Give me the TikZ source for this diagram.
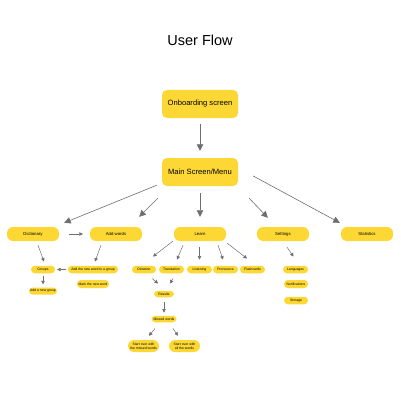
\documentclass[tikz,border=0pt]{standalone}
\usepackage{fontspec}
\setmainfont{Liberation Sans}
\usetikzlibrary{calc,arrows.meta}
\definecolor{boxy}{RGB}{253,216,53}
\definecolor{arrg}{RGB}{110,110,110}
\tikzset{
  bigbox/.style={fill=boxy,rounded corners=5pt,minimum width=76pt,minimum height=28pt,inner sep=0pt,font=\fontsize{7.6}{9}\selectfont},
  midbox/.style={fill=boxy,rounded corners=6pt,minimum width=52pt,minimum height=14pt,inner sep=0pt,font=\fontsize{4.3}{5}\selectfont},
  smallbox/.style={fill=boxy,rounded corners=3.7pt,minimum height=7.5pt,inner sep=0pt,font=\fontsize{3.4}{4}\selectfont},
  twobox/.style={fill=boxy,rounded corners=6pt,minimum width=31pt,minimum height=12pt,inner sep=0pt,align=center,font=\fontsize{3.4}{4.3}\selectfont},
  bigarr/.style={draw=arrg,line width=0.8pt,-{Triangle[length=6.5pt,width=6.5pt]}},
  smallarr/.style={draw=arrg,line width=0.5pt,-{Triangle[length=3.5pt,width=3.5pt]}},
}
\begin{document}
\begin{tikzpicture}[x=1pt,y=-1pt]
\useasboundingbox (0,0) rectangle (400,409);
\node[font=\fontsize{14.5}{16}\selectfont] (title) at (200,40) {User Flow};
\node[bigbox] (onboard) at (200,104) {Onboarding screen};
\node[bigbox] (main) at (200,172) {Main Screen/Menu};

\node[midbox] (dict) at (33,234) {Dictionary};
\node[midbox] (addwords) at (116,234) {Add words};
\node[midbox] (learn) at (200,234) {Learn};
\node[midbox] (settings) at (283,234) {Settings};
\node[midbox] (stats) at (367,234) {Statistics};

\node[smallbox,minimum width=24pt] (groups) at (43,269.5) {Groups};
\node[smallbox,minimum width=50pt] (addnew) at (93,269.5) {Add the new word to a group};
\node[smallbox,minimum width=32pt,minimum height=8pt] (mark) at (93,284) {Mark the new word};
\node[smallbox,minimum width=28pt,minimum height=7pt] (addgroup) at (43,291) {Add a new group};

\node[smallbox,minimum width=24pt] (dictation) at (144,269.5) {Dictation};
\node[smallbox,minimum width=25pt] (translation) at (171.5,269.5) {Translation};
\node[smallbox,minimum width=25pt] (listening) at (199.5,269.5) {Listening};
\node[smallbox,minimum width=25pt] (pronounce) at (225.5,269.5) {Pronounce};
\node[smallbox,minimum width=25pt] (flash) at (252.5,269.5) {Flashcards};

\node[smallbox,minimum width=20pt,minimum height=6.5pt] (results) at (164,294) {Results};
\node[smallbox,minimum width=25pt,minimum height=6.5pt] (missed) at (164,319) {Missed words};
\node[twobox] (startmissed) at (143.5,346) {Start over with\\the missed words};
\node[twobox] (startall) at (184.5,346) {Start over with\\all the words};

\node[smallbox,minimum width=25pt] (languages) at (295.5,269.5) {Languages};
\node[smallbox,minimum width=24pt,minimum height=8pt] (notif) at (296,284) {Notifications};
\node[smallbox,minimum width=24pt] (storage) at (296,300.5) {Storage};

% top arrows
\draw[bigarr] ($(onboard.south)+(0,6)$) -- ($(main.north)+(0,-7)$);
\draw[bigarr,line width=0.6pt] ($(main.south west)+(-5,-1)$) -- ($(dict.north east)+(5,-4)$);
\draw[bigarr,line width=0.6pt] ($(main.south west)+(-4,12)$) -- ($(addwords.north east)+(-3,-10)$);
\draw[bigarr,line width=0.6pt] ($(main.south)+(0,7)$) -- ($(learn.north)+(0,-10)$);
\draw[bigarr,line width=0.6pt] ($(main.south east)+(11,12)$) -- ($(settings.north west)+(11,-9)$);
\draw[bigarr,line width=0.6pt] ($(main.east)+(15,4)$) -- ($(stats.north west)+(-1,-4)$);

% dictionary
\draw[smallarr] ($(dict.east)+(10,0)$) -- ($(addwords.west)+(-7,0)$);
\draw[smallarr] ($(dict.south)+(5,4)$) -- ($(groups.north)+(1,-4)$);
\draw[smallarr] ($(addwords.south)+(-15,4)$) -- ($(addnew.north)+(2,-4)$);
\draw[smallarr] ($(addnew.west)+(-2,0)$) -- ($(groups.east)+(2,0)$);
\draw[smallarr] ($(groups.south)+(0,3)$) -- ($(addgroup.north)+(0,-3)$);

% learn
\draw[smallarr] ($(learn.south west)+(-1,0)$) -- ($(dictation.north)+(9,-9)$);
\draw[smallarr] ($(learn.south)+(-17,4)$) -- ($(translation.north)+(5.5,-6)$);
\draw[smallarr] ($(learn.south)+(-0.5,6)$) -- ($(listening.north)+(0,-6)$);
\draw[smallarr] ($(learn.south)+(18,4)$) -- ($(pronounce.north)+(-2.5,-6)$);
\draw[smallarr] ($(learn.south east)+(1,2)$) -- ($(flash.north)+(-5.5,-7)$);
\draw[smallarr] ($(dictation.south)+(8,5)$) -- ($(results.north)+(-6,-7)$);
\draw[smallarr] ($(translation.south)+(1.5,5)$) -- ($(results.north)+(6,-7)$);
\draw[smallarr] ($(results.south)+(0,5)$) -- ($(missed.north)+(0,-3)$);
\draw[smallarr] ($(missed.south)+(-9,6)$) -- ($(startmissed.north)+(5.5,-4)$);
\draw[smallarr] ($(missed.south)+(9,6)$) -- ($(startall.north)+(-6.5,-4)$);

% settings
\draw[smallarr] ($(settings.south)+(4,6)$) -- ($(languages.north)+(-2,-9)$);
\end{tikzpicture}
\end{document}
